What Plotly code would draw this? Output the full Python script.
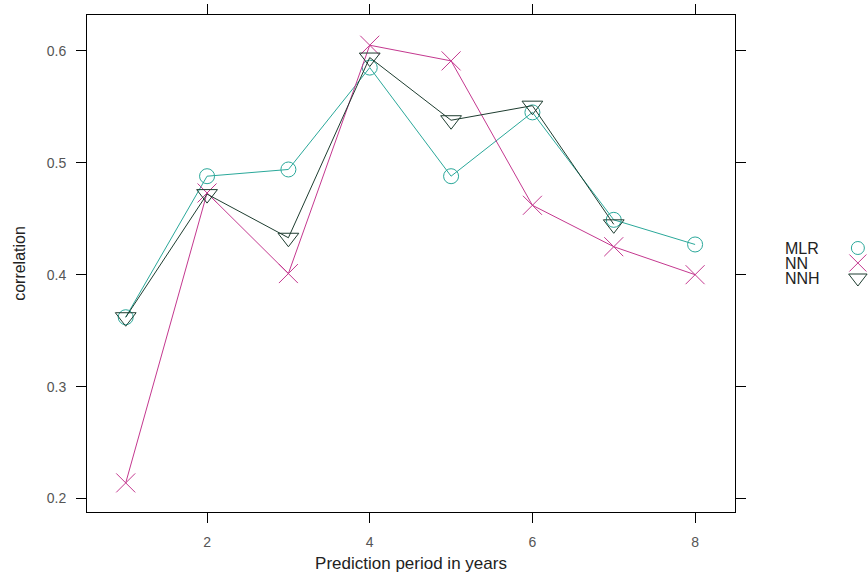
import plotly.graph_objects as go

# Correlation of each model with the observed values, by prediction horizon
years = [1, 2, 3, 4, 5, 6, 7, 8]
mlr = [0.362, 0.488, 0.494, 0.585, 0.488, 0.545, 0.449, 0.427]
nn = [0.214, 0.473, 0.401, 0.605, 0.591, 0.462, 0.425, 0.400]
nnh = [0.362, 0.472, 0.433, 0.594, 0.538, 0.551, 0.445, None]

series_names = ["MLR", "NN", "NNH"]
colors = ["#2aa89a", "#c4388f", "#1e3d30"]
symbols = ["circle-open", "x-thin-open", "triangle-down-open"]
sizes = [15, 19, 18]

FONT = "Liberation Sans, Arial"

fig = go.Figure()
for name, vals, col, sym, sz in zip(series_names, [mlr, nn, nnh], colors, symbols, sizes):
    fig.add_trace(go.Scatter(
        x=years, y=vals, mode="lines+markers", name=name,
        line=dict(color=col, width=1),
        marker=dict(symbol=sym, size=sz, color=col, line=dict(color=col, width=1)),
        showlegend=False,
    ))

# Key on the right: labels followed by their symbols
legend_y = [3, 2, 1]
for name, col, sym, sz, ly in zip(series_names, colors, symbols, sizes, legend_y):
    fig.add_trace(go.Scatter(
        x=[0.94], y=[ly], mode="markers", xaxis="x2", yaxis="y2",
        marker=dict(symbol=sym, size=sz - 2, color=col, line=dict(color=col, width=1)),
        showlegend=False, hoverinfo="skip", cliponaxis=False,
    ))
    fig.add_annotation(
        x=0.06, y=ly, xref="x2", yref="y2", text=name, showarrow=False,
        xanchor="left", yanchor="middle",
        font=dict(family=FONT, size=16, color="#222"),
    )

axis_common = dict(
    showgrid=False, zeroline=False, showline=True, linecolor="black", linewidth=1,
    mirror="allticks", ticks="outside", ticklen=10, tickwidth=1, tickcolor="black",
    ticklabelstandoff=7, automargin=False,
    tickfont=dict(family=FONT, size=14, color="#555"),
)

fig.update_layout(
    width=868, height=573,
    margin=dict(l=87, r=5, t=15, b=61),
    paper_bgcolor="white", plot_bgcolor="white",
    xaxis=dict(range=[0.524, 8.49], tickvals=[2, 4, 6, 8], domain=[0, 0.835],
               title=dict(text="Prediction period in years", standoff=11,
                          font=dict(family=FONT, size=17, color="#222")),
               **axis_common),
    yaxis=dict(range=[0.188, 0.632], tickvals=[0.2, 0.3, 0.4, 0.5, 0.6],
               tickformat=".1f",
               title=dict(text="correlation", standoff=17,
                          font=dict(family=FONT, size=16, color="#222")),
               **axis_common),
    xaxis2=dict(domain=[0.89, 1.0], range=[0, 1], visible=False, anchor="y2"),
    yaxis2=dict(domain=[0.421, 0.581], range=[-0.65, 4.65], visible=False, anchor="x2"),
)

fig.write_html("out.html")
